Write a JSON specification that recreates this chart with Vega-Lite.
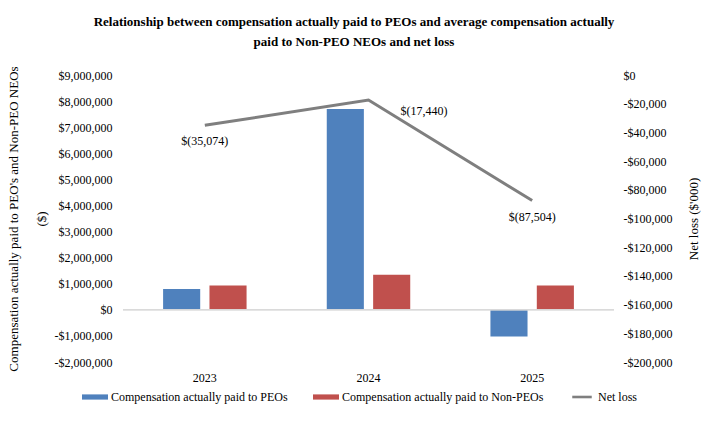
{
  "$schema": "https://vega.github.io/schema/vega-lite/v6.json",
  "width": 491,
  "height": 287,
  "autosize": {"type": "none"},
  "padding": {"left": 123, "top": 75, "right": 109, "bottom": 62},
  "background": "white",
  "title": {
    "text": ["Relationship between compensation actually paid to PEOs and average compensation actually", "paid to Non-PEO NEOs and net loss"],
    "font": "Liberation Serif",
    "fontSize": 13,
    "fontWeight": "bold",
    "color": "#000000",
    "lineHeight": 20,
    "anchor": "middle",
    "frame": "bounds",
    "offset": 17
  },
  "data": {
    "values": [
      {"year": "2023", "Compensation actually paid to PEOs": 800000, "Compensation actually paid to Non-PEOs": 930000, "NetLoss": -35074, "label": "$(35,074)"},
      {"year": "2024", "Compensation actually paid to PEOs": 7700000, "Compensation actually paid to Non-PEOs": 1340000, "NetLoss": -17440, "label": "$(17,440)"},
      {"year": "2025", "Compensation actually paid to PEOs": -1020000, "Compensation actually paid to Non-PEOs": 930000, "NetLoss": -87504, "label": "$(87,504)"}
    ]
  },
  "layer": [
    {
      "layer": [
        {
          "transform": [{"fold": ["Compensation actually paid to PEOs", "Compensation actually paid to Non-PEOs"], "as": ["series", "value"]}],
          "mark": {"type": "bar"},
          "encoding": {
            "x": {
              "field": "year", "type": "nominal",
              "scale": {"paddingInner": 0.49, "paddingOuter": 0.245},
              "axis": {"title": null, "labelAngle": 0, "labelPadding": 10}
            },
            "xOffset": {
              "field": "series", "type": "nominal",
              "scale": {"domain": ["Compensation actually paid to PEOs", "Compensation actually paid to Non-PEOs"], "paddingInner": 0.2, "paddingOuter": 0}
            },
            "y": {
              "field": "value", "type": "quantitative",
              "scale": {"domain": [-2000000, 9000000], "nice": false, "zero": false},
              "axis": {
                "title": ["Compensation actually paid to PEO's and Non-PEO NEOs", "($)"],
                "titleLineHeight": 28,
                "titlePadding": 6,
                "labelPadding": 11,
                "labelOverlap": false,
                "labelFlush": false,
                "values": [-2000000, -1000000, 0, 1000000, 2000000, 3000000, 4000000, 5000000, 6000000, 7000000, 8000000, 9000000],
                "labelExpr": "(datum.value < 0 ? '-' : '') + '$' + format(abs(datum.value), ',')"
              }
            },
            "color": {
              "field": "series", "type": "nominal",
              "scale": {
                "domain": ["Compensation actually paid to PEOs", "Compensation actually paid to Non-PEOs", "Net loss"],
                "range": ["#4f81bd", "#c0504d", "#7f7f7f"]
              },
              "legend": {
                "orient": "none",
                "legendX": -41,
                "legendY": 309,
                "direction": "horizontal",
                "title": null,
                "labelFont": "Liberation Serif",
                "labelFontSize": 12,
                "labelColor": "#000000",
                "labelLimit": 400,
                "symbolSize": 676,
                "symbolType": "M-1,-0.2H1V0.2H-1Z",
                "symbolStrokeWidth": 0,
                "labelOffset": 3,
                "columnPadding": 25,
                "encode": {
                  "symbols": {
                    "update": {
                      "shape": {"signal": "datum.label === 'Net loss' ? 'M-0.75,-0.1H0.75V0.1H-0.75Z' : 'M-1,-0.2H1V0.2H-1Z'"},
                      "fill": {"signal": "scale('color', datum.value)"},
                      "strokeWidth": {"value": 0}
                    }
                  }
                }
              }
            }
          }
        },
        {
          "mark": {"type": "rule", "color": "#d9d9d9", "strokeWidth": 1},
          "encoding": {
            "y": {
              "datum": 0, "type": "quantitative",
              "axis": {
                "title": ["Compensation actually paid to PEO's and Non-PEO NEOs", "($)"],
                "titleLineHeight": 28,
                "titlePadding": 6,
                "labelPadding": 11,
                "labelOverlap": false,
                "labelFlush": false,
                "values": [-2000000, -1000000, 0, 1000000, 2000000, 3000000, 4000000, 5000000, 6000000, 7000000, 8000000, 9000000],
                "labelExpr": "(datum.value < 0 ? '-' : '') + '$' + format(abs(datum.value), ',')"
              }
            }
          }
        }
      ]
    },
    {
      "layer": [
        {
          "mark": {"type": "line", "strokeWidth": 3},
          "encoding": {
            "x": {"field": "year", "type": "nominal", "axis": {"title": null, "labelAngle": 0, "labelPadding": 10}},
            "y": {
              "field": "NetLoss", "type": "quantitative",
              "scale": {"domain": [-200000, 0], "nice": false, "zero": false},
              "axis": {
                "orient": "right",
                "title": "Net loss ($'000)",
                "titleAngle": -90,
                "titleBaseline": "top",
                "titlePadding": 16,
                "labelPadding": 9,
                "labelAlign": "left",
                "labelOverlap": false,
                "labelFlush": false,
                "values": [-200000, -180000, -160000, -140000, -120000, -100000, -80000, -60000, -40000, -20000, 0],
                "labelExpr": "(datum.value < 0 ? '-' : '') + '$' + format(abs(datum.value), ',')"
              }
            },
            "color": {"datum": "Net loss"}
          }
        },
        {
          "transform": [{"filter": "datum.year !== '2024'"}],
          "mark": {"type": "text", "dy": 16, "align": "center", "baseline": "middle", "font": "Liberation Serif", "fontSize": 12, "color": "#000000"},
          "encoding": {
            "x": {"field": "year", "type": "nominal", "axis": {"title": null, "labelAngle": 0, "labelPadding": 10}},
            "y": {
              "field": "NetLoss", "type": "quantitative",
              "axis": {
                "orient": "right",
                "title": "Net loss ($'000)",
                "titleAngle": -90,
                "titleBaseline": "top",
                "titlePadding": 16,
                "labelPadding": 9,
                "labelAlign": "left",
                "labelOverlap": false,
                "labelFlush": false,
                "values": [-200000, -180000, -160000, -140000, -120000, -100000, -80000, -60000, -40000, -20000, 0],
                "labelExpr": "(datum.value < 0 ? '-' : '') + '$' + format(abs(datum.value), ',')"
              }
            },
            "text": {"field": "label"}
          }
        },
        {
          "transform": [{"filter": "datum.year === '2024'"}],
          "mark": {"type": "text", "dx": 32, "dy": 11, "align": "left", "baseline": "middle", "font": "Liberation Serif", "fontSize": 12, "color": "#000000"},
          "encoding": {
            "x": {"field": "year", "type": "nominal", "axis": {"title": null, "labelAngle": 0, "labelPadding": 10}},
            "y": {
              "field": "NetLoss", "type": "quantitative",
              "axis": {
                "orient": "right",
                "title": "Net loss ($'000)",
                "titleAngle": -90,
                "titleBaseline": "top",
                "titlePadding": 16,
                "labelPadding": 9,
                "labelAlign": "left",
                "labelOverlap": false,
                "labelFlush": false,
                "values": [-200000, -180000, -160000, -140000, -120000, -100000, -80000, -60000, -40000, -20000, 0],
                "labelExpr": "(datum.value < 0 ? '-' : '') + '$' + format(abs(datum.value), ',')"
              }
            },
            "text": {"field": "label"}
          }
        }
      ]
    }
  ],
  "resolve": {"scale": {"y": "independent"}, "axis": {"y": "independent"}},
  "config": {
    "view": {"stroke": null},
    "font": "Liberation Serif",
    "axis": {
      "domain": false,
      "ticks": false,
      "grid": false,
      "labelFont": "Liberation Serif",
      "labelFontSize": 12,
      "labelColor": "#000000",
      "titleFont": "Liberation Serif",
      "titleFontSize": 13,
      "titleFontWeight": "normal",
      "titleColor": "#000000"
    }
  }
}
